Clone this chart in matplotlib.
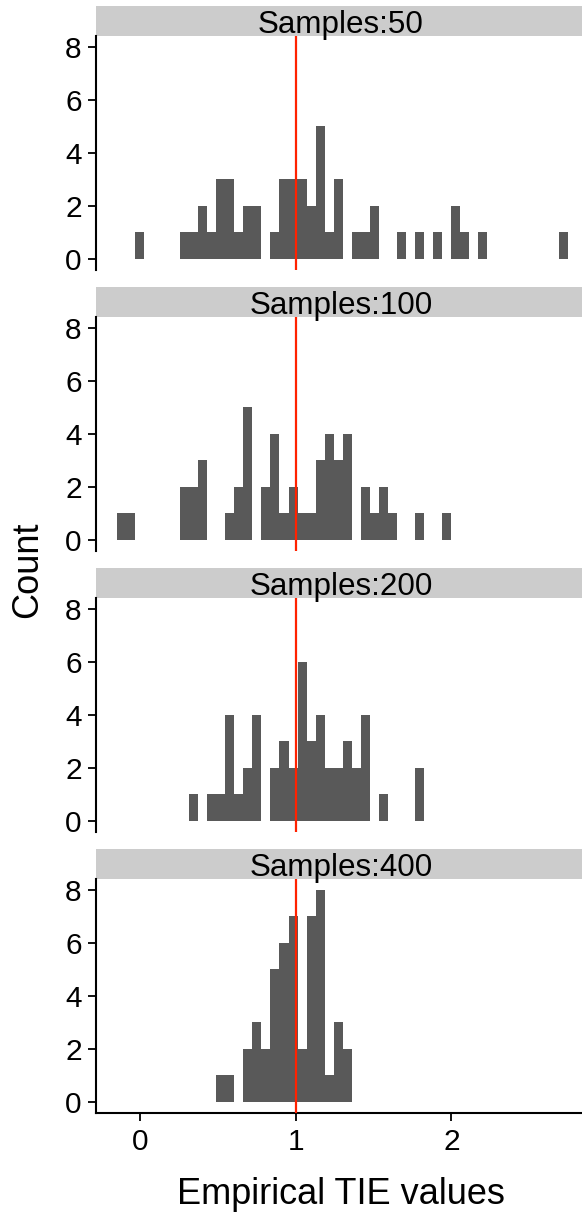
import numpy as np
import matplotlib
matplotlib.use("Agg")
import matplotlib.pyplot as plt

plt.rcParams['font.family'] = ['Liberation Sans', 'DejaVu Sans']

# ===== data: histogram counts on a shared bin grid =====
bin_width = 0.058
bin_origin = 1.011          # one bin edge sits just right of 1.0
bin_index = np.arange(-20, 30)

panel_titles = ["Samples:50", "Samples:100", "Samples:200", "Samples:400"]

counts_50 = [0, 0, 1, 0, 0, 0, 0, 1, 1, 2, 1, 3, 3, 1, 2, 2, 0, 1, 3, 3,
             3, 2, 5, 1, 3, 0, 1, 1, 2, 0, 0, 1, 0, 1, 0, 1, 0, 2, 1, 0,
             1, 0, 0, 0, 0, 0, 0, 0, 0, 1]
counts_100 = [1, 1, 0, 0, 0, 0, 0, 2, 2, 3, 0, 0, 1, 2, 5, 0, 2, 4, 1, 2,
              1, 1, 3, 4, 3, 4, 0, 2, 1, 2, 1, 0, 0, 1, 0, 0, 1, 0, 0, 0,
              0, 0, 0, 0, 0, 0, 0, 0, 0, 0]
counts_200 = [0, 0, 0, 0, 0, 0, 0, 0, 1, 0, 1, 1, 4, 1, 2, 4, 0, 2, 3, 2,
              6, 3, 4, 2, 2, 3, 2, 4, 0, 1, 0, 0, 0, 2, 0, 0, 0, 0, 0, 0,
              0, 0, 0, 0, 0, 0, 0, 0, 0, 0]
counts_400 = [0, 0, 0, 0, 0, 0, 0, 0, 0, 0, 0, 1, 1, 0, 2, 3, 2, 5, 6, 7,
              2, 7, 8, 1, 3, 2, 0, 0, 0, 0, 0, 0, 0, 0, 0, 0, 0, 0, 0, 0,
              0, 0, 0, 0, 0, 0, 0, 0, 0, 0]
all_counts = [counts_50, counts_100, counts_200, counts_400]

ref_value = 1.0
y_ticks = [0, 2, 4, 6, 8]
x_ticks = [0, 1, 2]

# ===== layout (pixels) =====
W, H = 582, 1216
fig = plt.figure(figsize=(W / 100, H / 100), dpi=100)

left_px, right_px = 96, 586
strip_h, plot_h, period = 30, 234, 281
top0 = 6

bar_color = "#595959"
strip_color = "#CCCCCC"
tick_fs = 21.5

for i, (title, counts) in enumerate(zip(panel_titles, all_counts)):
    strip_top = top0 + period * i
    plot_top = strip_top + strip_h
    plot_bot = plot_top + plot_h

    # strip
    sax = fig.add_axes([left_px / W, 1 - plot_top / H,
                        (right_px - left_px) / W, strip_h / H])
    sax.set_facecolor(strip_color)
    for s in sax.spines.values():
        s.set_visible(False)
    sax.set_xticks([])
    sax.set_yticks([])

    ax = fig.add_axes([left_px / W, 1 - plot_bot / H,
                       (right_px - left_px) / W, plot_h / H])
    edges = bin_origin + bin_index * bin_width
    ax.bar(edges, counts, width=bin_width, align="edge",
           color=bar_color, linewidth=0)
    ax.axvline(ref_value, color="#FF2200", linewidth=1.6, zorder=3)

    ax.set_xlim(-0.285, 2.866)
    ax.set_ylim(-0.42, 8.4)
    ax.set_yticks(y_ticks)
    for s in ["top", "right"]:
        ax.spines[s].set_visible(False)
    ax.spines["left"].set_linewidth(1.5)
    ax.tick_params(axis="y", labelsize=tick_fs, length=5.8, width=1.3,
                   pad=4.5, colors="black")
    if i < 3:
        ax.spines["bottom"].set_visible(False)
        ax.set_xticks([])
    else:
        ax.spines["bottom"].set_linewidth(1.5)
        ax.set_xticks(x_ticks)
        ax.tick_params(axis="x", labelsize=tick_fs, length=5.8, width=1.3,
                       pad=5, colors="black")

    # strip label sits at the bottom of the strip
    fig.text((left_px + right_px) / 2 / W, 1 - (plot_top - 3) / H, title,
             ha="center", va="baseline", fontsize=22.6, zorder=5)

fig.text(28 / W, 1 - 570 / H, "Count", rotation=90,
         ha="center", va="center", fontsize=26)
fig.text(341 / W, 1 - 1194 / H, "Empirical TIE values",
         ha="center", va="center", fontsize=26)

fig.savefig("out.png", dpi=100)
